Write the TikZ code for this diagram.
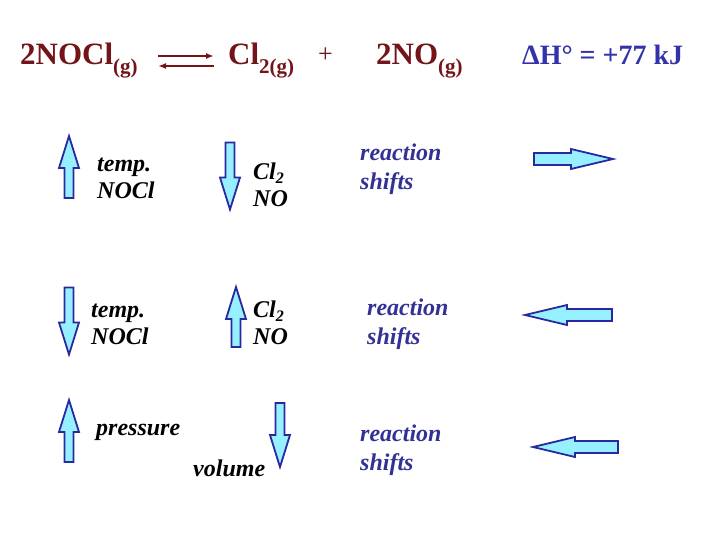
\documentclass[tikz,border=0pt]{standalone}
\usepackage{fontspec}
\setmainfont{Liberation Serif}
\usetikzlibrary{arrows.meta}
\definecolor{eqred}{RGB}{115,20,25}
\definecolor{dhblue}{RGB}{50,50,170}
\definecolor{shiftblue}{RGB}{50,50,150}
\definecolor{arrfill}{RGB}{150,240,255}
\definecolor{arrdraw}{RGB}{40,40,160}
\newcommand\gsub[1]{\raisebox{-9pt}{\fontsize{21}{21}\selectfont #1}}
\newcommand\lsub[1]{\raisebox{-4pt}{\fontsize{16}{16}\selectfont #1}}
\tikzset{
  eqtext/.style={anchor=base west,inner sep=0pt,text=eqred,font=\fontsize{31}{31}\selectfont\bfseries},
  dhtext/.style={anchor=base west,inner sep=0pt,text=dhblue,font=\fontsize{28}{28}\selectfont\bfseries},
  lbl/.style={anchor=base west,inner sep=0pt,align=left,font=\fontsize{24}{27}\selectfont\bfseries\itshape},
  shiftlbl/.style={lbl,text=shiftblue,font=\fontsize{24}{29}\selectfont\bfseries\itshape},
  eqarr/.style={-{Latex[length=8pt,width=6pt]},line width=1.6pt,eqred},
  arrowline/.style={draw=arrdraw,fill=arrfill,line width=1.8pt,line join=miter},
  vshape/.code={\def\shaftw{4.5}\def\headw{10}\def\headl{32}},
  hshape/.code={\def\shaftw{6}\def\headw{10}\def\headl{42}},
  blockarr/.pic={
    \draw[arrowline] (-\shaftw,{#1/2}) -- (-\shaftw,{\headl-#1/2}) -- (-\headw,{\headl-#1/2})
      -- (0,{-#1/2}) -- (\headw,{\headl-#1/2}) -- (\shaftw,{\headl-#1/2}) -- (\shaftw,{#1/2}) -- cycle;
  }
}
\begin{document}
\begin{tikzpicture}[x=1pt,y=-1pt]
  \useasboundingbox[fill=white] (0,0) rectangle (720,540);

  % equation
  \node[eqtext] (nocl) at (20,65) {2NOCl\gsub{(g)}};
  \node[eqtext] (cl2) at (228,65) {Cl\gsub{2(g)}};
  \node[eqtext,font=\fontsize{26}{26}\selectfont] (plus) at (318,63) {+};
  \node[eqtext] (no) at (376,65) {2NO\gsub{(g)}};
  \node[dhtext] (dh) at (522,65) {ΔH\textdegree{} = +77 kJ};
  \coordinate (fwdA) at (158,56);
  \coordinate (fwdB) at (214,56);
  \coordinate (revA) at (214,66);
  \coordinate (revB) at (158,66);
  \draw[eqarr] (fwdA) -- (fwdB);
  \draw[eqarr] (revA) -- (revB);

  % temperature up
  \pic[vshape] at (69,167) {blockarr=62};
  \node[lbl] (temp1) at (97,199) {temp.\\NOCl};
  \pic[vshape,rotate=180] at (230,176) {blockarr=67};
  \node[lbl] (prod1) at (253,207) {Cl\lsub{2}\\NO};
  \node[shiftlbl] (shift1) at (360,190) {reaction\\shifts};
  \pic[hshape,rotate=-90] at (573.5,159) {blockarr=79};

  % temperature down
  \pic[vshape,rotate=180] at (69,321) {blockarr=67};
  \node[lbl] (temp2) at (91,344) {temp.\\NOCl};
  \pic[vshape] at (236,317) {blockarr=60};
  \node[lbl] (prod2) at (253,344) {Cl\lsub{2}\\NO};
  \node[shiftlbl] (shift2) at (367,344) {reaction\\shifts};
  \pic[hshape,rotate=90] at (568.5,315) {blockarr=87};

  % pressure up
  \pic[vshape] at (69,431) {blockarr=62};
  \node[lbl] (press) at (96,435) {pressure};
  \pic[vshape,rotate=180] at (280,435) {blockarr=64};
  \node[lbl] (vol) at (193,476) {volume};
  \node[shiftlbl] (shift3) at (360,470) {reaction\\shifts};
  \pic[hshape,rotate=90] at (575.5,447) {blockarr=85};
\end{tikzpicture}
\end{document}
